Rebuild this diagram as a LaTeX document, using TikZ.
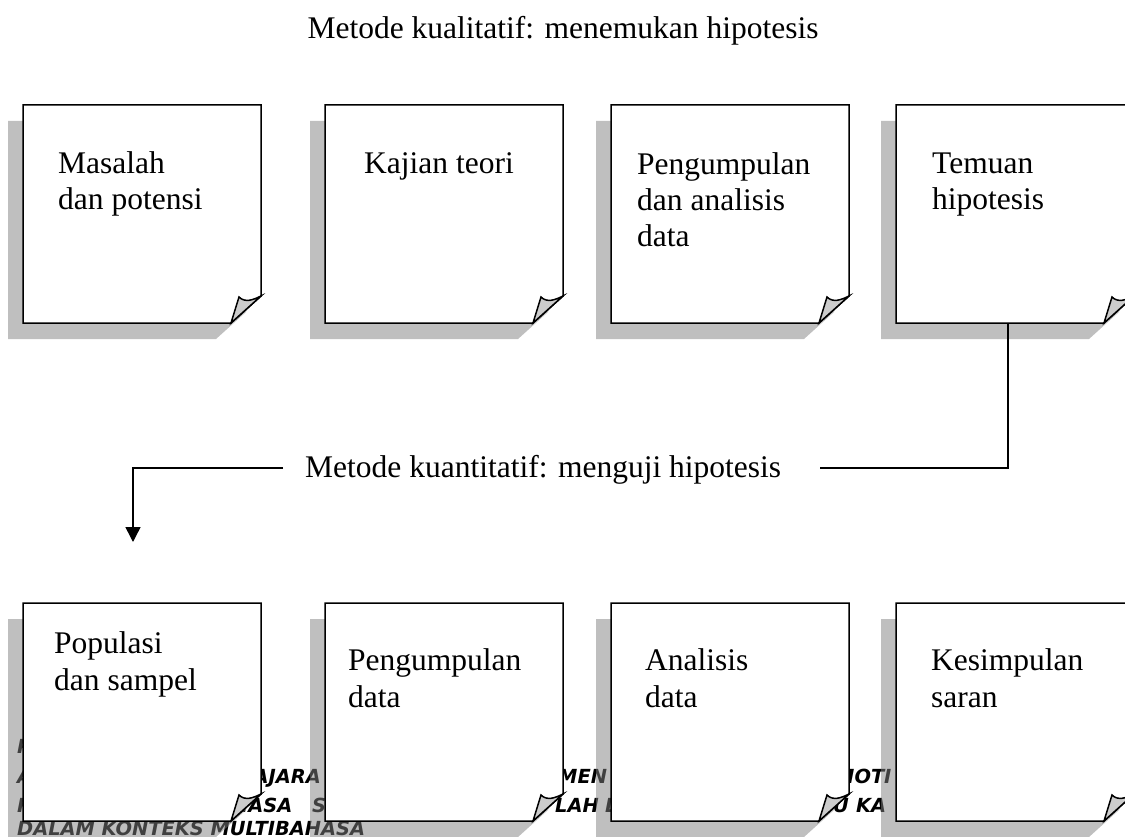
\documentclass[tikz,border=0pt]{standalone}
\usepackage{fontspec}
\setmainfont{Liberation Serif}
\newfontfamily\footfont{DejaVu Sans Bold Oblique}
\usetikzlibrary{arrows.meta}
\definecolor{flapgray}{HTML}{CCCCCC}
\newcommand{\boxlines}[1]{\vtop{\halign{##\hfil\cr#1\crcr}}}
\tikzset{
  boxnode/.style={minimum width=238pt, minimum height=218pt, inner sep=0pt, outer sep=0pt, anchor=north west},
  paperline/.style={draw=black, line width=1.5pt, line join=miter},
  shadowfill/.style={fill=black!50, fill opacity=0.5},
  boxtext/.style={inner sep=0pt, anchor=base west, font=\fontsize{31.5}{36}\selectfont},
  boxtextb/.style={inner sep=0pt, anchor=base west, font=\fontsize{31.5}{37.5}\selectfont},
  headtext/.style={inner sep=0pt, font=\fontsize{31.5}{36}\selectfont},
  foot/.style={inner sep=0pt, text depth=0pt, anchor=base west, font=\footfont\fontsize{19.4}{20}\selectfont},
  foote/.style={foot, anchor=base east},
  conn/.style={draw=black, line width=1.5pt},
}
\newcommand{\paper}[1]{%
  \fill[shadowfill] ([shift={(-15,16)}]#1.north west) -- ([shift={(-15,16)}]#1.south west) -- ([shift={(-45,16)}]#1.south east) -- ([shift={(-15,-11)}]#1.south east) -- ([shift={(-15,16)}]#1.north east) -- cycle;
  \draw[paperline, fill=white] (#1.north west) -- (#1.south west) -- ([xshift=-30pt]#1.south east) -- ([shift={(0,-27)}]#1.south east) -- (#1.north east) -- cycle;
  \draw[paperline, fill=flapgray] ([xshift=-30pt]#1.south east) -- ([shift={(-22,-26)}]#1.south east) .. controls ([shift={(-16,-20)}]#1.south east) and ([shift={(-8,-23)}]#1.south east) .. ([shift={(0,-27)}]#1.south east) -- cycle;
}
\begin{document}
\begin{tikzpicture}[x=1pt, y=-1pt]
\useasboundingbox (0,0) rectangle (1125,837);
\clip (0,0) rectangle (1125,837);
\fill[white] (0,0) rectangle (1125,837);

% title
\node[headtext, anchor=base] (title) at (563,39) {Metode kualitatif: menemukan hipotesis};

% footer fragments (behind the boxes)
\node[foot] (f1) at (17,753) {P};
\node[foot] (f2) at (17,783) {A};
\node[foote] (f3) at (321,783) {AJARA};
\node[foot] (f4) at (558,783) {MEN};
\node[foot] (f5) at (835,783) {MOTI};
\node[foot] (f6) at (17,812) {K};
\node[foot] (f7) at (232,812) {HASA};
\node[foot] (f8) at (312,812) {S};
\node[foot] (f9) at (555,812) {LAH};
\node[foot] (f10) at (605,812) {D};
\node[foote] (f11) at (849,812) {DU};
\node[foot] (f12) at (856,812) {KA};
\node[foot] (f13) at (17,835) {DALAM KONTEKS MULTIBAHASA};

% top row
\node[boxnode] (t1) at (23,105) {};
\node[boxnode] (t2) at (325,105) {};
\node[boxnode] (t3) at (611,105) {};
\node[boxnode] (t4) at (896,105) {};
% bottom row
\node[boxnode] (b1) at (23,603) {};
\node[boxnode] (b2) at (325,603) {};
\node[boxnode] (b3) at (611,603) {};
\node[boxnode] (b4) at (896,603) {};

\paper{t1}\paper{t2}\paper{t3}\paper{t4}
\paper{b1}\paper{b2}\paper{b3}\paper{b4}

% texts top
\node[boxtext] (tx1) at ([shift={(35,69)}]t1.north west) {\boxlines{Masalah\cr dan potensi}};
\node[boxtext] (tx2) at ([shift={(39,69)}]t2.north west) {\boxlines{Kajian teori}};
\node[boxtext] (tx3) at ([shift={(26,70)}]t3.north west) {\boxlines{Pengumpulan\cr dan analisis\cr data}};
\node[boxtext] (tx4) at ([shift={(36,69)}]t4.north west) {\boxlines{Temuan\cr hipotesis}};
% texts bottom
\node[boxtextb] (bx1) at ([shift={(31,50)}]b1.north west) {\boxlines{Populasi\cr dan sampel}};
\node[boxtextb] (bx2) at ([shift={(23,67)}]b2.north west) {\boxlines{Pengumpulan\cr data}};
\node[boxtextb] (bx3) at ([shift={(34,67)}]b3.north west) {\boxlines{Analisis\cr data}};
\node[boxtextb] (bx4) at ([shift={(35,67)}]b4.north west) {\boxlines{Kesimpulan\cr saran}};

% middle label and connectors
\node[headtext, anchor=base west] (mid) at (305,477) {Metode kuantitatif: menguji hipotesis};
\coordinate (rt) at (1008,468);
\coordinate (lt) at (133,468);
\coordinate (tip) at (133,542);
\draw[conn] (t4.south -| rt) -- (rt) -- ([xshift=39pt]mid.east |- rt);
\draw[conn, -{Triangle[width=15pt, length=15pt]}] ([xshift=-22pt]mid.west |- lt) -- (lt) -- (tip);
\end{tikzpicture}
\end{document}
